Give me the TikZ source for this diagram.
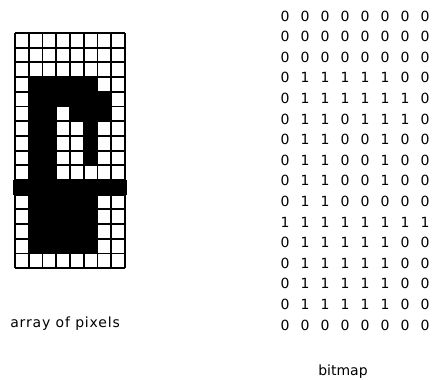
\documentclass[tikz,border=0pt]{standalone}
\usepackage{fontspec}
\setmainfont{DejaVu Sans}
\begin{document}
\begin{tikzpicture}[x=0.75pt,y=-0.75pt,
  gridline/.style={line width=1.4pt,black},
  pixon/.style={fill=black},
  digit/.style={font=\fontsize{10.5}{12}\selectfont,inner sep=0pt,anchor=center},
  caption/.style={font=\fontsize{10.5}{12}\selectfont,inner sep=0pt,anchor=west}]
\useasboundingbox (0,0) rectangle (436,379);
\def\cw{13.75}
\def\ch{14.7}
\def\gx{15}
\def\gy{33}
\foreach \row [count=\r] in {
  {0,0,0,0,0,0,0,0},
  {0,0,0,0,0,0,0,0},
  {0,0,0,0,0,0,0,0},
  {0,1,1,1,1,1,0,0},
  {0,1,1,1,1,1,1,0},
  {0,1,1,0,1,1,1,0},
  {0,1,1,0,0,1,0,0},
  {0,1,1,0,0,1,0,0},
  {0,1,1,0,0,1,0,0},
  {0,1,1,0,0,0,0,0},
  {1,1,1,1,1,1,1,1},
  {0,1,1,1,1,1,0,0},
  {0,1,1,1,1,1,0,0},
  {0,1,1,1,1,1,0,0},
  {0,1,1,1,1,1,0,0},
  {0,0,0,0,0,0,0,0}} {
  \foreach \v [count=\c] in \row {
    \ifnum\v=1
      \fill[pixon] ({\gx+(\c-1)*\cw},{\gy+(\r-1)*\ch}) rectangle ({\gx+\c*\cw},{\gy+\r*\ch});
    \fi
    \node[digit] (b-\r-\c) at ({285+(\c-1)*20},{16+(\r-1)*20.6}) {\v};
  }
}
% the full black row runs slightly past the grid edges
\fill[pixon] ({\gx-2},{\gy+10*\ch}) rectangle ({\gx+8*\cw+2},{\gy+11*\ch});
\foreach \i in {0,...,8}
  \draw[gridline] ({\gx+\i*\cw},\gy) -- ({\gx+\i*\cw},{\gy+16*\ch});
\foreach \j in {0,...,16}
  \draw[gridline] (\gx,{\gy+\j*\ch}) -- ({\gx+8*\cw},{\gy+\j*\ch});
\node[caption] (cap1) at (10,324) {\addfontfeature{LetterSpace=6}array of pixels};
\node[caption,anchor=center] (cap2) at (343,372) {bitmap};
\end{tikzpicture}
\end{document}
